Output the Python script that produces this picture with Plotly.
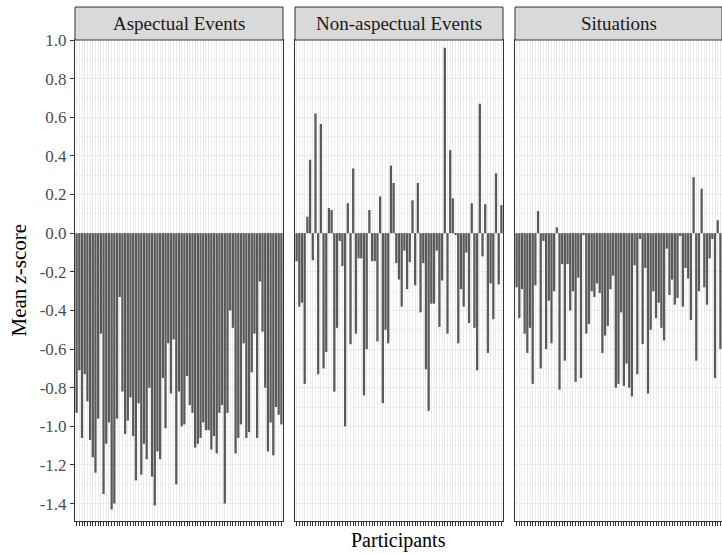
import plotly.graph_objects as go

panels = ["Aspectual Events", "Non-aspectual Events", "Situations"]

aspectual = [-0.93, -0.71, -1.06, -0.73, -0.87, -1.07, -1.16, -1.24, -0.96, -0.52,
             -1.35, -1.09, -0.98, -1.43, -1.40, -0.96, -0.33, -0.82, -1.04, -0.97,
             -0.85, -1.05, -1.28, -0.88, -1.25, -1.09, -1.17, -0.80, -1.26, -1.41,
             -1.13, -1.17, -0.75, -1.01, -0.57, -0.83, -0.55, -1.30, -0.82, -1.00,
             -0.99, -0.74, -0.89, -0.93, -1.11, -1.09, -1.06, -0.98, -1.02, -1.02,
             -1.12, -1.05, -1.14, -0.93, -0.89, -1.40, -0.93, -0.40, -0.49, -1.14,
             -1.06, -0.99, -0.57, -1.06, -1.03, -0.72, -0.52, -1.06, -0.25, -0.51,
             -0.80, -1.13, -0.98, -1.15, -0.90, -0.94, -0.99]

non_aspectual = [-0.145, -0.38, -0.36, -0.78, 0.085, 0.38, -0.14, 0.62, -0.73, 0.565,
                 -0.70, -0.615, 0.13, 0.12, -0.82, -0.49, -0.04, -0.17, -1.00, 0.155,
                 -0.575, 0.335, -0.52, -0.13, -0.13, -0.84, -0.60, 0.12, -0.145, -0.145,
                 -0.56, 0.19, -0.88, -0.50, -0.57, 0.35, 0.26, -0.155, -0.24, -0.38,
                 -0.09, -0.29, -0.15, 0.17, -0.27, 0.26, -0.41, -0.155, -0.705, -0.92,
                 -0.365, -0.365, -0.09, -0.485, -0.245, 0.96, -0.52, 0.43, 0.18, -0.01,
                 -0.57, -0.29, -0.38, -0.10, -0.465, 0.155, -0.49, -0.71, 0.67, -0.12,
                 0.15, -0.62, -0.26, -0.445, 0.31, -0.265, 0.145]

situations = [-0.28, -0.44, -0.29, -0.52, -0.62, -0.49, -0.78, -0.27, 0.115, -0.70,
              -0.04, -0.60, -0.35, -0.57, -0.30, 0.03, -0.81, -0.16, -0.66, -0.16,
              -0.40, -0.30, -0.77, -0.23, -0.75, -0.01, -0.52, -0.47, -0.30, -0.33,
              -0.26, -0.31, -0.62, -0.53, -0.48, -0.29, -0.22, -0.80, -0.78, -0.41,
              -0.79, -0.675, -0.80, -0.845, -0.166, -0.73, -0.03, -0.575, -0.18, -0.83,
              -0.50, -0.30, -0.44, -0.36, -0.49, -0.555, -0.08, -0.32, -0.24, -0.37,
              -0.335, -0.015, -0.38, -0.18, -0.235, -0.45, 0.29, -0.66, -0.30, 0.23,
              -0.28, -0.37, -0.13, -0.03, -0.75, 0.067, -0.60]

participants = list(range(1, len(aspectual) + 1))

y_ticks = [1.0, 0.8, 0.6, 0.4, 0.2, 0.0, -0.2, -0.4, -0.6, -0.8, -1.0, -1.2, -1.4]
y_tick_labels = ["1.0", "0.8", "0.6", "0.4", "0.2", "0.0", "-0.2", "-0.4",
                 "-0.6", "-0.8", "-1.0", "-1.2", "-1.4"]
y_minor = [0.9, 0.7, 0.5, 0.3, 0.1, -0.1, -0.3, -0.5, -0.7, -0.9, -1.1, -1.3]

series = [aspectual, non_aspectual, situations]

W, H = 722, 553
ML, MR, MT, MB = 75, 0, 40, 32
pw = W - ML - MR
ph = H - MT - MB
domains = [[0, 208 / pw], [220 / pw, 428 / pw], [440 / pw, 1.0]]

FONT = "Liberation Serif"

fig = go.Figure()
for i, vals in enumerate(series):
    xa = "x" if i == 0 else f"x{i+1}"
    ya = "y" if i == 0 else f"y{i+1}"
    fig.add_trace(go.Bar(x=participants, y=vals, xaxis=xa, yaxis=ya,
                         marker=dict(color="#595959", line=dict(width=0)),
                         showlegend=False, hoverinfo="x+y"))

n = len(participants)
layout = dict(
    width=W, height=H,
    margin=dict(l=ML, r=MR, t=MT, b=MB),
    paper_bgcolor="white", plot_bgcolor="white",
    bargap=0.15,
    font=dict(family=FONT, color="#1A1A1A"),
)
shapes = []
annotations = []
for i in range(3):
    xk = "xaxis" if i == 0 else f"xaxis{i+1}"
    yk = "yaxis" if i == 0 else f"yaxis{i+1}"
    xref = "x" if i == 0 else f"x{i+1}"
    yref = "y" if i == 0 else f"y{i+1}"
    layout[xk] = dict(
        domain=domains[i], anchor=yref, range=[0.4, n + 0.6],
        tickmode="array", tickvals=participants, showticklabels=False,
        ticks="outside", ticklen=4, tickwidth=1, tickcolor="#333333",
        showgrid=True, gridcolor="#EBEBEB", gridwidth=1,
        showline=True, linecolor="#333333", linewidth=1, mirror=True,
        zeroline=False, fixedrange=True,
    )
    layout[yk] = dict(
        domain=[0, 1], anchor=xref, range=[-1.49, 1.0],
        tickmode="array", tickvals=y_ticks, ticktext=y_tick_labels,
        showticklabels=(i == 0),
        ticks="outside" if i == 0 else "", ticklen=4, tickwidth=1, tickcolor="#333333",
        tickfont=dict(family=FONT, size=17, color="#4D4D4D"),
        showgrid=True, gridcolor="#EBEBEB", gridwidth=1,
        minor=dict(tickvals=y_minor, showgrid=True, gridcolor="#F2F2F2", gridwidth=0.6, ticks=""),
        showline=True, linecolor="#333333", linewidth=1, mirror=True,
        zeroline=False, fixedrange=True,
    )
    if i > 0:
        layout[yk]["matches"] = "y"
    shapes.append(dict(type="rect", xref=f"{xref} domain", yref="paper",
                       x0=0, x1=1, y0=1, y1=1 + 33 / ph,
                       fillcolor="#D9D9D9", line=dict(color="#333333", width=1),
                       layer="above"))
    annotations.append(dict(text=panels[i], xref=f"{xref} domain", yref="paper",
                            x=0.5, y=1 + 16.5 / ph, xanchor="center", yanchor="middle",
                            showarrow=False,
                            font=dict(family=FONT, size=19, color="#1A1A1A")))

annotations.append(dict(text="Participants", xref="paper", yref="paper",
                        x=0.5, y=-19 / ph, xanchor="center", yanchor="middle",
                        showarrow=False, font=dict(family=FONT, size=20, color="#000000")))
annotations.append(dict(text="Mean <i>z</i>-score", xref="paper", yref="paper",
                        x=-57 / pw, y=0.5, xanchor="center", yanchor="middle",
                        textangle=-90, showarrow=False,
                        font=dict(family=FONT, size=21, color="#000000")))

layout["shapes"] = shapes
layout["annotations"] = annotations
fig.update_layout(**layout)

fig.write_html("out.html",
               config={"displayModeBar": False},
               post_script="document.body.style.margin='0';document.body.style.overflow='hidden';")
